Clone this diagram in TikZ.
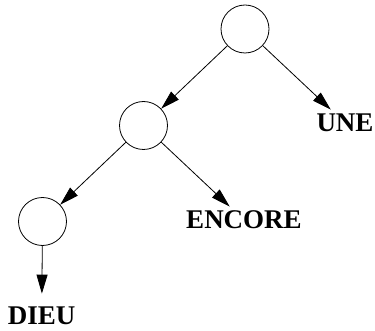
\documentclass[tikz,border=0pt]{standalone}
\usepackage{fontspec}
\setmainfont{Liberation Serif}
\usetikzlibrary{arrows.meta}

\begin{document}
\begin{tikzpicture}[x=1pt,y=-1pt,>={Triangle[length=19pt,width=11pt]},line width=0.8pt,knot/.style={draw,circle,minimum size=48pt,inner sep=0pt},word/.style={font=\fontsize{27}{30}\selectfont\bfseries,inner sep=4pt}]
\useasboundingbox (0,0) rectangle (375,331);
\node[knot] (top) at (245,29) {};
\node[knot] (mid) at (143.5,125.5) {};
\node[knot] (low) at (42.5,221.5) {};
\node[word] (une) at (345,123) {UNE};
\node[word] (encore) at (244,220) {ENCORE};
\node[word] (dieu) at (41.7,316) {DIEU};
\draw[->](top)--(mid);\draw[->](top)--(une);\draw[->](mid)--(low);\draw[->](mid)--(encore);\draw[->,shorten >=9pt](low)--(dieu);
\end{tikzpicture}
\end{document}
